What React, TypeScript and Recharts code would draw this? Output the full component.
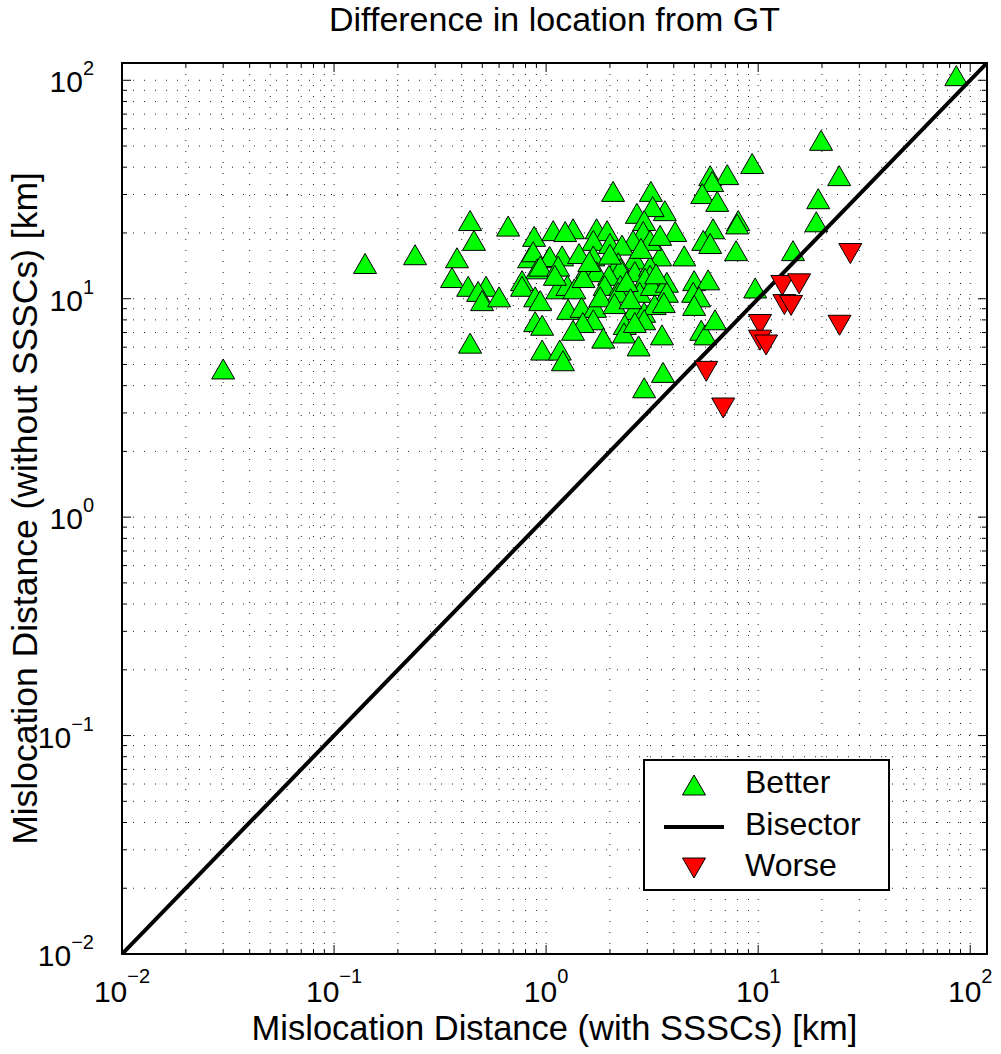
import React from "react"
import { CartesianGrid, Scatter, ScatterChart, XAxis, YAxis } from "recharts"

// mislocation distances [km]
const betterX = [
  0.03, 0.14, 0.241, 0.438, 0.662, 0.457, 0.878, 1.08, 0.38, 0.832, 0.869, 0.908, 1.03, 0.36, 0.429, 0.521,
  0.478, 0.499, 0.6, 0.77, 0.77, 0.888, 0.888, 0.438, 0.958, 1.13, 86, 19.8, 9.37, 5.94, 7.15, 6.07, 5.45,
  6.41, 2.07, 3.12, 24.1, 19.2, 18.8, 3.63, 3.18, 2.68, 8.05, 7.96, 6.13, 5.51, 5.94, 7.87, 4.48, 4.06, 3.45,
  2.9, 2.87, 2.57, 2.62, 3.09, 3.45, 1.34, 1.23, 1.73, 1.94, 1.67, 2.0, 2.28, 1.19, 1.04, 1.43, 1.67, 0.938,
  1.14, 1.56, 1.73, 2.19, 2.24, 2.62, 3.09, 3.09, 2.93, 1.98, 1.26, 1.36, 1.89, 2.24, 2.19, 2.76, 3.15, 3.71,
  3.71, 4.99, 5.81, 4.94, 5.27, 4.99, 9.68, 14.6, 0.938, 1.27, 1.47, 1.7, 1.67, 1.49, 1.34, 1.86, 2.6, 2.9,
  3.25, 3.59, 2.35, 2.33, 2.9, 2.62, 3.52, 2.73, 5.39, 5.63, 6.26, 0.958, 1.16, 1.2, 3.56, 2.9,
  1.5, 1.8, 2.1, 2.4, 1.6, 2.5, 1.1, 3.3, 2.0, 2.8,
]
const betterY = [
  4.77, 14.5, 15.9, 22.8, 21.5, 18.5, 19.3, 20.5, 15.4, 15.4, 16.4, 13.7, 15.4, 12.5, 11.4, 11.4,
  10.8, 9.8, 10.2, 12.1, 11.4, 10.2, 7.85, 6.26, 5.82, 11.1, 105, 53.1, 41.6, 36.6, 37.0, 34.4, 30.3,
  27.9, 31.0, 31.0, 36.6, 28.7, 22.5, 25.3, 26.4, 24.6, 22.8, 22.0, 20.9, 18.5, 17.9, 16.6, 15.7, 20.3, 15.7,
  22.8, 20.3, 18.5, 15.2, 18.5, 19.5, 20.9, 20.3, 20.9, 20.5, 18.5, 17.9, 17.6, 15.7, 15.6, 16.1, 15.7, 14.1,
  14.1, 13.8, 13.3, 14.6, 13.7, 13.3, 14.1, 12.8, 12.4, 12.8, 11.5, 11.1, 11.5, 11.5, 10.7, 10.7, 11.5, 11.9,
  10.7, 12.1, 12.2, 10.7, 10.2, 9.32, 11.2, 16.6, 9.8, 8.94, 9.13, 9.13, 8.01, 7.78, 7.17, 6.6, 8.94, 8.67,
  9.4, 9.6, 7.62, 6.97, 8.01, 7.78, 6.83, 6.08, 7.17, 6.83, 8.01, 7.56, 5.82, 5.2, 4.6, 3.91,
  12.5, 10.2, 9.5, 12.0, 14.8, 10.0, 12.8, 13.0, 16.0, 17.0,
]
const worseX = [27.2, 13.0, 15.6, 13.3, 14.3, 10.2, 10.2, 10.9, 24.2, 5.69, 6.84]
const worseY = [16.1, 11.5, 11.7, 9.4, 9.32, 7.62, 6.46, 6.14, 7.56, 4.65, 3.16]
const bisectorEnds = [0.01, 120]

const logTicks = [
  0.01, 0.02, 0.03, 0.04, 0.05, 0.06, 0.07, 0.08, 0.09,
  0.1, 0.2, 0.3, 0.4, 0.5, 0.6, 0.7, 0.8, 0.9,
  1, 2, 3, 4, 5, 6, 7, 8, 9,
  10, 20, 30, 40, 50, 60, 70, 80, 90, 100,
]

const better = betterX.map((x, i) => ({ x, y: betterY[i] }))
const worse = worseX.map((x, i) => ({ x, y: worseY[i] }))
const bisector = bisectorEnds.map((v) => ({ x: v, y: v }))

const W = 1001
const H = 1054
const LEFT = 122
const RIGHT = 987
const TOP = 63
const BOTTOM = 954
const FONT = "'Liberation Sans', Arial, Helvetica, sans-serif"

const exponent = (v: number) => Math.round(Math.log10(v))
const isMajor = (v: number) => Math.abs(Math.log10(v) - exponent(v)) < 1e-6
const expText = (v: number) => (exponent(v) < 0 ? `\u2212${-exponent(v)}` : `${exponent(v)}`)

function XTick({ x, payload }: any) {
  const v = payload.value
  const major = isMajor(v)
  const len = major ? 9 : 5
  return (
    <g>
      <line x1={x} x2={x} y1={BOTTOM} y2={BOTTOM - len} stroke="#000" />
      <line x1={x} x2={x} y1={TOP} y2={TOP + len} stroke="#000" />
      {major && (
        <text x={x} y={BOTTOM + 48} textAnchor="middle" fontSize={30} fontFamily={FONT} fill="#000">
          10
          <tspan dy={-19} fontSize={20}>
            {expText(v)}
          </tspan>
        </text>
      )}
    </g>
  )
}

function YTick({ y, payload }: any) {
  const v = payload.value
  const major = isMajor(v)
  const len = major ? 9 : 5
  return (
    <g>
      <line x1={LEFT} x2={LEFT + len} y1={y} y2={y} stroke="#000" />
      <line x1={RIGHT} x2={RIGHT - len} y1={y} y2={y} stroke="#000" />
      {major && (
        <text x={94} y={y + 12} textAnchor="end" fontSize={30} fontFamily={FONT} fill="#000">
          10
          <tspan dy={-17} fontSize={20}>
            {expText(v)}
          </tspan>
        </text>
      )}
    </g>
  )
}

function UpTri({ cx, cy }: { cx: number; cy: number }) {
  return (
    <polygon
      points={`${cx},${cy - 10} ${cx - 11.5},${cy + 10} ${cx + 11.5},${cy + 10}`}
      fill="#00ff00"
      stroke="#000"
      strokeWidth={1}
    />
  )
}

function DownTri({ cx, cy }: { cx: number; cy: number }) {
  return (
    <polygon
      points={`${cx},${cy + 10} ${cx - 11.5},${cy - 10} ${cx + 11.5},${cy - 10}`}
      fill="#ff0000"
      stroke="#000"
      strokeWidth={1}
    />
  )
}

function Overlay() {
  const lx = 644
  const ly = 760
  return (
    <svg width={W} height={H} style={{ position: "absolute", left: 0, top: 0, pointerEvents: "none" }}>
      <rect x={LEFT} y={TOP} width={RIGHT - LEFT} height={BOTTOM - TOP} fill="none" stroke="#000" strokeWidth={2} />
      <text x={(LEFT + RIGHT) / 2} y={22} textAnchor="middle" dominantBaseline="middle" fontSize={34} fontFamily={FONT}>
        Difference in location from GT
      </text>
      <text x={(LEFT + RIGHT) / 2} y={1031} textAnchor="middle" dominantBaseline="middle" fontSize={34.5} fontFamily={FONT}>
        Mislocation Distance (with SSSCs) [km]
      </text>
      <text
        x={28}
        y={(TOP + BOTTOM) / 2}
        transform={`rotate(-90 28 ${(TOP + BOTTOM) / 2})`}
        textAnchor="middle"
        dominantBaseline="middle"
        fontSize={35.5}
        fontFamily={FONT}
      >
        Mislocation Distance (without SSSCs) [km]
      </text>

      <rect x={lx} y={ly} width={245} height={130} fill="#fff" stroke="#000" strokeWidth={2} />
      <UpTri cx={lx + 50} cy={ly + 25} />
      <line x1={lx + 20} x2={lx + 80} y1={ly + 67} y2={ly + 67} stroke="#000" strokeWidth={4} />
      <DownTri cx={lx + 50} cy={ly + 108} />
      <text x={lx + 101} y={ly + 25} dominantBaseline="middle" fontSize={32} fontFamily={FONT}>Better</text>
      <text x={lx + 101} y={ly + 67} dominantBaseline="middle" fontSize={32} fontFamily={FONT}>Bisector</text>
      <text x={lx + 101} y={ly + 108} dominantBaseline="middle" fontSize={32} fontFamily={FONT}>Worse</text>
    </svg>
  )
}

export default function App() {
  return (
    <div style={{ position: "absolute", left: 0, top: 0, width: W, height: H, background: "#fff" }}>
      <ScatterChart width={W} height={H} margin={{ top: TOP, right: W - RIGHT, bottom: 60, left: 62 }}>
        <CartesianGrid stroke="#222" strokeDasharray="1 10" />
        <XAxis
          dataKey="x"
          type="number"
          scale="log"
          domain={[0.01, 120]}
          allowDataOverflow
          ticks={logTicks}
          interval={0}
          height={40}
          tickSize={0}
          axisLine={false}
          tickLine={false}
          tick={(p: any) => <XTick {...p} />}
        />
        <YAxis
          dataKey="y"
          type="number"
          scale="log"
          domain={[0.01, 120]}
          allowDataOverflow
          ticks={logTicks}
          interval={0}
          width={60}
          tickSize={0}
          axisLine={false}
          tickLine={false}
          tick={(p: any) => <YTick {...p} />}
        />
        <Scatter data={better} isAnimationActive={false} shape={(p: any) => <UpTri cx={p.cx} cy={p.cy} />} />
        <Scatter
          data={bisector}
          isAnimationActive={false}
          line={{ stroke: "#000", strokeWidth: 4 }}
          shape={() => <g />}
        />
        <Scatter data={worse} isAnimationActive={false} shape={(p: any) => <DownTri cx={p.cx} cy={p.cy} />} />
      </ScatterChart>
      <Overlay />
    </div>
  )
}
